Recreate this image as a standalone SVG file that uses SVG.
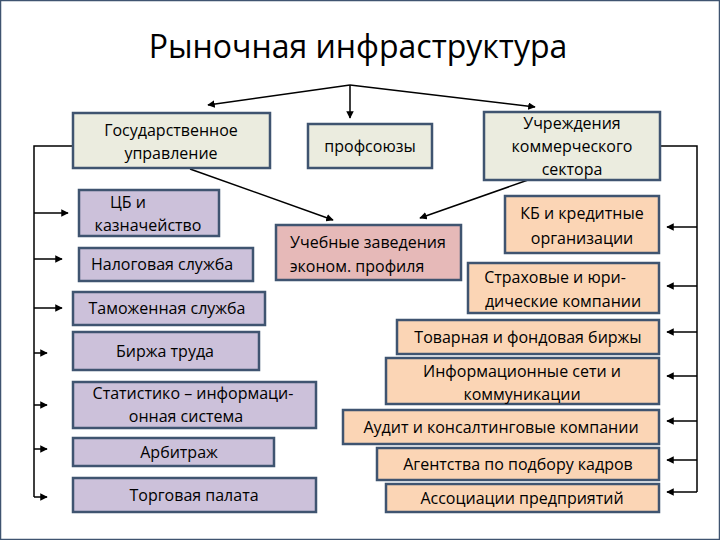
<svg xmlns="http://www.w3.org/2000/svg" width="720" height="540" viewBox="0 0 720 540">
<style>
text{font-family:"Open Sans","Noto Sans","DejaVu Sans",sans-serif;font-size:16px;fill:#000;text-anchor:middle}
.t{font-size:32px}
rect{stroke:#3f5470;stroke-width:2.5}
.g{fill:#ebecdf}.p{fill:#ccc1da}.r{fill:#e6b9b8}.o{fill:#fbd5b5}
.c line,.c path{stroke:#000;stroke-width:1.5;fill:none}
</style>
<defs><marker id="a" viewBox="0 0 10 10" refX="9" refY="5" markerWidth="5" markerHeight="5" orient="auto"><path d="M0,0L10,5L0,10z" fill="#000"/></marker></defs>
<rect width="720" height="540" fill="#fff" stroke="none"/>
<text class="t" x="358" y="58">Рыночная инфраструктура</text>
<g class="c">
<line x1="350" y1="85" x2="208" y2="105" marker-end="url(#a)"/>
<line x1="350" y1="85" x2="350" y2="118" marker-end="url(#a)"/>
<line x1="350" y1="85" x2="535" y2="107" marker-end="url(#a)"/>
<line x1="190" y1="169" x2="333" y2="220" marker-end="url(#a)"/>
<line x1="528" y1="180" x2="420" y2="218" marker-end="url(#a)"/>
<path d="M73,146H34V497"/>
<line x1="34" y1="213" x2="68" y2="213" marker-end="url(#a)"/>
<line x1="34" y1="259" x2="62" y2="259" marker-end="url(#a)"/>
<line x1="34" y1="308" x2="62" y2="308" marker-end="url(#a)"/>
<line x1="34" y1="353" x2="47" y2="353" marker-end="url(#a)"/>
<line x1="34" y1="405" x2="47" y2="405" marker-end="url(#a)"/>
<line x1="34" y1="449" x2="47" y2="449" marker-end="url(#a)"/>
<line x1="34" y1="497" x2="47" y2="497" marker-end="url(#a)"/>
<path d="M660,146H697V492"/>
<line x1="697" y1="227" x2="667" y2="227" marker-end="url(#a)"/>
<line x1="697" y1="286" x2="667" y2="286" marker-end="url(#a)"/>
<line x1="697" y1="332" x2="667" y2="332" marker-end="url(#a)"/>
<line x1="697" y1="376" x2="667" y2="376" marker-end="url(#a)"/>
<line x1="697" y1="421" x2="667" y2="421" marker-end="url(#a)"/>
<line x1="697" y1="460" x2="667" y2="460" marker-end="url(#a)"/>
<line x1="697" y1="492" x2="667" y2="492" marker-end="url(#a)"/>
</g>
<g id="gos"><rect class="g" x="73" y="113" width="197" height="55"/><text x="171" y="136">Государственное</text><text x="171" y="159">управление</text></g>
<g id="prof"><rect class="g" x="308" y="124" width="124" height="44"/><text x="370" y="152">профсоюзы</text></g>
<g id="uchr"><rect class="g" x="484" y="112" width="176" height="68"/><text x="572" y="129">Учреждения</text><text x="572" y="152">коммерческого</text><text x="572" y="175">сектора</text></g>
<g id="cb"><rect class="p" x="79" y="190" width="140" height="46"/><text x="128" y="208">ЦБ и</text><text x="148" y="231">казначейство</text></g>
<g id="nal"><rect class="p" x="79" y="248" width="174" height="33"/><text x="162" y="270">Налоговая служба</text></g>
<g id="tam"><rect class="p" x="73" y="292" width="192" height="33"/><text x="167" y="314">Таможенная служба</text></g>
<g id="birzh"><rect class="p" x="73" y="332" width="186" height="38"/><text x="165" y="357">Биржа труда</text></g>
<g id="stat"><rect class="p" x="73" y="382" width="243" height="46"/><text x="193" y="399">Статистико – информаци-</text><text x="186" y="422">онная система</text></g>
<g id="arb"><rect class="p" x="73" y="438" width="201" height="28"/><text x="179" y="458">Арбитраж</text></g>
<g id="torg"><rect class="p" x="73" y="478" width="243" height="34"/><text x="194" y="501">Торговая палата</text></g>
<g id="ucheb"><rect class="r" x="276" y="225" width="185" height="55"/><text x="368" y="248">Учебные заведения</text><text x="357" y="272">эконом. профиля</text></g>
<g id="kb"><rect class="o" x="505" y="196" width="154" height="57"/><text x="582" y="219">КБ и кредитные</text><text x="582" y="244">организации</text></g>
<g id="strah"><rect class="o" x="468" y="263" width="191" height="50"/><text x="555" y="283">Страховые и юри-</text><text x="563" y="307">дические компании</text></g>
<g id="tov"><rect class="o" x="397" y="320" width="262" height="34"/><text x="528" y="343">Товарная и фондовая биржы</text></g>
<g id="inf"><rect class="o" x="386" y="358" width="273" height="46"/><text x="522" y="377">Информационные сети и</text><text x="522" y="400">коммуникации</text></g>
<g id="audit"><rect class="o" x="343" y="410" width="316" height="34"/><text x="501" y="433">Аудит и консалтинговые компании</text></g>
<g id="agent"><rect class="o" x="377" y="448" width="282" height="32"/><text x="518" y="470">Агентства по подбору кадров</text></g>
<g id="assoc"><rect class="o" x="386" y="484" width="273" height="28"/><text x="522" y="504">Ассоциации предприятий</text></g>
</svg>
